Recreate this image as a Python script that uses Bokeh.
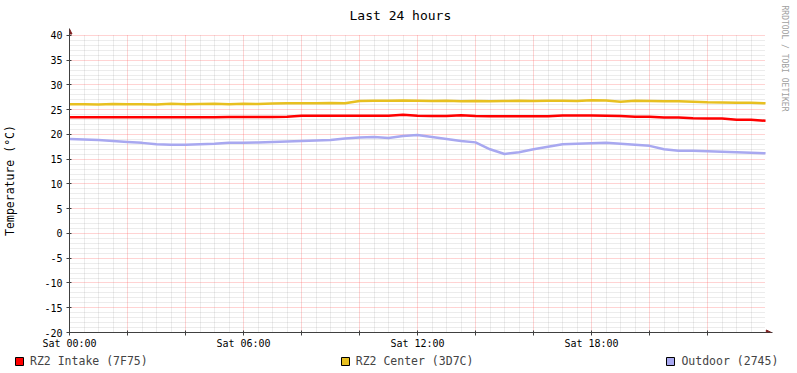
import math
from bokeh.plotting import figure
from bokeh.layouts import column
from bokeh.models import (Range1d, FixedTicker, Arrow, NormalHead, Legend, LegendItem,
                          Title, Grid)
from bokeh.embed import file_html
from bokeh.resources import INLINE

# ---------------- data ----------------
hours = [i * 0.5 for i in range(49)]

intake = [23.5, 23.5, 23.45, 23.5, 23.5, 23.45, 23.5, 23.5, 23.5, 23.45,
          23.5, 23.55, 23.55, 23.55, 23.55, 23.6, 23.8, 23.8, 23.8, 23.8,
          23.8, 23.8, 23.8, 24.0, 23.8, 23.75, 23.75, 23.9, 23.75, 23.7,
          23.7, 23.7, 23.7, 23.7, 23.85, 23.85, 23.85, 23.8, 23.75, 23.6,
          23.6, 23.4, 23.4, 23.25, 23.2, 23.2, 22.95, 22.95, 22.75]

center = [26.1, 26.1, 26.05, 26.15, 26.1, 26.1, 26.05, 26.2, 26.1, 26.15,
          26.2, 26.1, 26.2, 26.15, 26.25, 26.3, 26.3, 26.3, 26.35, 26.3,
          26.75, 26.8, 26.8, 26.85, 26.8, 26.75, 26.8, 26.7, 26.75, 26.7,
          26.75, 26.8, 26.75, 26.8, 26.8, 26.75, 26.9, 26.85, 26.6, 26.8,
          26.75, 26.7, 26.7, 26.6, 26.5, 26.45, 26.4, 26.4, 26.3]

outdoor = [19.1, 19.0, 18.9, 18.7, 18.5, 18.3, 18.0, 17.9, 17.9, 18.0,
           18.1, 18.3, 18.3, 18.4, 18.5, 18.6, 18.7, 18.8, 18.9, 19.2,
           19.4, 19.5, 19.3, 19.7, 19.9, 19.5, 19.1, 18.7, 18.4, 17.0,
           16.05, 16.4, 17.0, 17.5, 18.0, 18.1, 18.2, 18.3, 18.1, 17.9,
           17.7, 17.0, 16.7, 16.7, 16.6, 16.5, 16.4, 16.3, 16.2]

series_values = [intake, center, outdoor]
series_names = ["RZ2 Intake (7F75)", "RZ2 Center (3D7C)", "Outdoor (2745)"]
series_colors = ["#FF0000", "#E8C020", "#A8A8F0"]

x_major_ticks = [0, 2, 4, 6, 8, 10, 12, 14, 16, 18, 20, 22]
x_minor_ticks = [h + 0.5 * k for h in range(0, 24, 2) for k in (1, 2, 3)]
x_tick_labels = {0: "Sat 00:00", 6: "Sat 06:00", 12: "Sat 12:00", 18: "Sat 18:00"}

y_major_ticks = [-20, -15, -10, -5, 0, 5, 10, 15, 20, 25, 30, 35, 40]
y_minor_ticks = [v for v in range(-20, 41) if v % 5 != 0]

title_text = "Last 24 hours"
y_label_text = "Temperature (°C)"
watermark_text = "RRDTOOL / TOBI OETIKER"

FONT = "DejaVu Sans Mono"
AXIS_COLOR = "#404040"
ARROW_COLOR = "#7F1F1F"

# ---------------- main figure ----------------
p = figure(width=797, height=351, x_range=Range1d(0, 24.24), y_range=Range1d(-20, 41.4),
           output_backend="svg", toolbar_location=None, title=None,
           min_border_left=67, min_border_right=23, min_border_top=26, min_border_bottom=18,
           background_fill_color="white", border_fill_color="white", outline_line_color=None)

p.xaxis.ticker = FixedTicker(ticks=x_major_ticks, minor_ticks=x_minor_ticks)
p.xaxis.major_label_overrides = {t: x_tick_labels.get(t, "") for t in x_major_ticks}
p.yaxis.ticker = FixedTicker(ticks=y_major_ticks, minor_ticks=y_minor_ticks)
p.yaxis.major_label_overrides = {t: str(t) for t in y_major_ticks}

for ax in (p.xaxis[0], p.yaxis[0]):
    ax.axis_line_color = AXIS_COLOR
    ax.major_tick_line_color = AXIS_COLOR
    ax.major_tick_in = 2
    ax.major_tick_out = 3
    ax.minor_tick_line_color = None
    ax.major_label_text_font = FONT
    ax.major_label_text_font_size = "10px"
    ax.major_label_text_color = "black"
p.xaxis.major_label_standoff = 1
p.yaxis.major_label_standoff = 3
p.yaxis.axis_label = y_label_text
p.yaxis.axis_label_text_font = FONT
p.yaxis.axis_label_text_font_size = "11.5px"
p.yaxis.axis_label_text_font_style = "normal"
p.yaxis.axis_label_text_color = "black"
p.yaxis.axis_label_standoff = 24

p.xgrid.ticker = FixedTicker(ticks=x_major_ticks, minor_ticks=x_minor_ticks)
p.ygrid.ticker = FixedTicker(ticks=y_major_ticks, minor_ticks=y_minor_ticks)
for g in (p.xgrid[0], p.ygrid[0]):
    g.grid_line_color = "#FF5F5F"
    g.grid_line_alpha = 0.55
    g.grid_line_dash = "1 1"
    g.minor_grid_line_color = "#8F8F8F"
    g.minor_grid_line_alpha = 0.35
    g.minor_grid_line_dash = "1 1"
if "cross_bounds" in Grid.properties():
    p.xgrid[0].cross_bounds = (-20, 40)
    p.ygrid[0].cross_bounds = (0, 24)

for vals, col in zip(series_values, series_colors):
    p.line(hours, vals, line_color=col, line_width=2.5)

p.add_layout(Arrow(end=NormalHead(size=5, fill_color=ARROW_COLOR, line_color=ARROW_COLOR),
                   x_start=0, y_start=40, x_end=0, y_end=41.3, line_color=AXIS_COLOR, line_width=1))
p.add_layout(Arrow(end=NormalHead(size=5, fill_color=ARROW_COLOR, line_color=ARROW_COLOR),
                   x_start=24, y_start=-20, x_end=24.2, y_end=-20, line_color=AXIS_COLOR, line_width=1))

p.add_layout(Title(text=title_text, text_font=FONT, text_font_size="13px", text_font_style="normal",
                   text_color="black", align="left", offset=280, standoff=11), "above")
p.add_layout(Title(text=watermark_text, text_font=FONT, text_font_size="8px", text_font_style="normal",
                   text_color="#A0A0A0", align="left", offset=-23, standoff=14), "right")

# ---------------- legend strip ----------------
p2 = figure(width=797, height=22, x_range=Range1d(0, 1), y_range=Range1d(0, 1),
            x_axis_type=None, y_axis_type=None, output_backend="svg", toolbar_location=None,
            title=None, min_border=0, outline_line_color=None,
            background_fill_color="white", border_fill_color="white")
p.frame_align = False
p2.frame_align = False
items = []
for name, col in zip(series_names, series_colors):
    # swatch renderers: their single box lies outside the visible range, only the legend shows them
    r = p2.quad(left=[5], right=[6], top=[6], bottom=[5], fill_color=col, line_color="black", line_width=1)
    items.append(LegendItem(label=name, renderers=[r]))
legend = Legend(items=items, orientation="horizontal", location=(14, 5), spacing=192,
                glyph_width=10, glyph_height=10, label_standoff=6, padding=0, margin=0,
                border_line_color=None, background_fill_alpha=0,
                label_text_font=FONT, label_text_font_size="11.5px", label_height=12)
p2.add_layout(legend)

layout = column(p, p2, spacing=0)
open("out.html", "w").write(file_html(layout, INLINE))
